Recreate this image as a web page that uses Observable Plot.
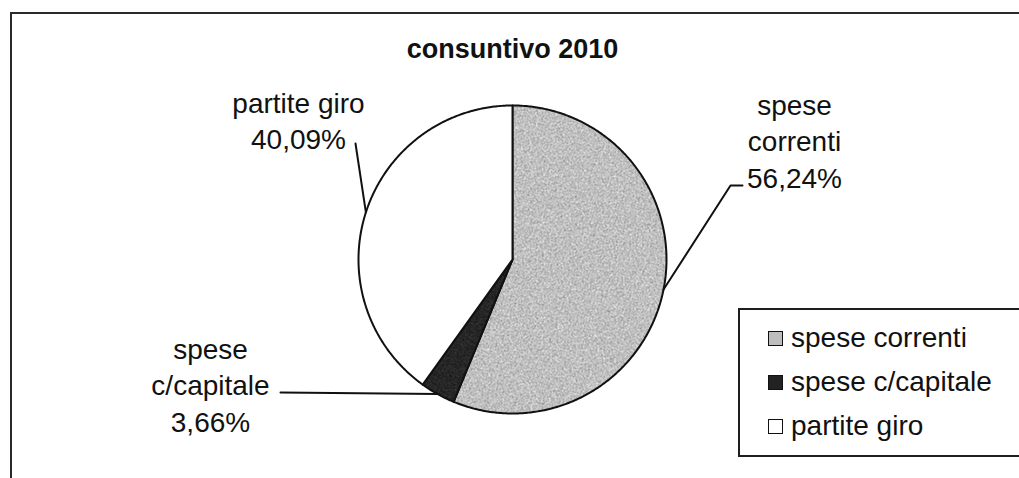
<!DOCTYPE html>
<html>
<head>
<meta charset="utf-8">
<script src="https://cdn.jsdelivr.net/npm/d3@7"></script>
<script src="https://cdn.jsdelivr.net/npm/@observablehq/plot@0.6"></script>
<style>
  html, body { margin: 0; padding: 0; background: #fff; }
  body { width: 1019px; height: 478px; position: relative; overflow: hidden; font-family: "Liberation Sans", Arial, sans-serif; }
  #chart { position: absolute; left: 0; top: 0; }
  #frame { position: absolute; left: 10px; top: 12px; width: 1030px; height: 500px; border: 2px solid #2a2a2a; pointer-events: none; }
  #legend { position: absolute; left: 738px; top: 308px; width: 300px; height: 145px; border: 2px solid #1e1e1e; background: #fff; }
  .row { position: absolute; left: 28px; height: 44px; display: flex; align-items: center; font-size: 28px; color: #111; white-space: nowrap; }
  .sw { width: 13px; height: 13px; border: 1.5px solid #111; margin-right: 8px; box-sizing: content-box; }
</style>
</head>
<body>
<svg width="0" height="0" style="position:absolute">
  <defs>
    <filter id="noiseLight" x="0" y="0" width="100%" height="100%" color-interpolation-filters="sRGB">
      <feTurbulence type="fractalNoise" baseFrequency="0.85" numOctaves="2" seed="3" result="n"/>
      <feColorMatrix in="n" type="matrix" values="0.9 0 0 0 0.3  0.9 0 0 0 0.3  0.9 0 0 0 0.3  0 0 0 0 1"/>
    </filter>
    <filter id="noiseDark" x="0" y="0" width="100%" height="100%" color-interpolation-filters="sRGB">
      <feTurbulence type="fractalNoise" baseFrequency="0.85" numOctaves="2" seed="5" result="n"/>
      <feColorMatrix in="n" type="matrix" values="0.4 0 0 0 -0.05  0.4 0 0 0 -0.05  0.4 0 0 0 -0.05  0 0 0 0 1"/>
    </filter>
    <pattern id="speckLight" patternUnits="userSpaceOnUse" width="400" height="400">
      <rect width="400" height="400" filter="url(#noiseLight)"/>
    </pattern>
    <pattern id="speckDark" patternUnits="userSpaceOnUse" width="400" height="400">
      <rect width="400" height="400" filter="url(#noiseDark)"/>
    </pattern>
  </defs>
</svg>
<div id="chart"></div>
<div id="legend"></div>
<div id="frame"></div>
<script>
// ---- data ----
const title = "consuntivo 2010";
const categories = ["spese correnti", "spese c/capitale", "partite giro"];
const shares = [56.24, 3.66, 40.09];
const shareLabels = ["56,24%", "3,66%", "40,09%"];
const labelTexts = ["spese\ncorrenti", "spese\nc/capitale", "partite giro"];
const sliceFills = ["url(#speckLight)", "url(#speckDark)", "#ffffff"];
const legendSwatch = ["#bdbdbd", "#222222", "#ffffff"];

// ---- layout (pixels) ----
const W = 1019, H = 478;
const cx = 512, cy = 259, R = 154;
const labelPos = [[794, 139], [210, 383], [298, 119]];
const leaderElbows = [[[730, 185], [742, 185]], [[280, 392]], [[355, 143]]];
const ux = px => (px - cx) / R;
const uy = py => (cy - py) / R;

// ---- build slices from data ----
const pie = d3.pie().sort(null).value(d => d)(shares);
const slicePts = [];
pie.forEach((p, i) => {
  const n = Math.max(4, Math.ceil((p.endAngle - p.startAngle) / 0.01));
  slicePts.push({k: categories[i], x: 0, y: 0});
  for (let j = 0; j <= n; j++) {
    const a = p.startAngle + (p.endAngle - p.startAngle) * j / n;
    slicePts.push({k: categories[i], x: Math.sin(a), y: Math.cos(a)});
  }
  slicePts.push({k: categories[i], x: 0, y: 0});
});

const leaders = [];
pie.forEach((p, i) => {
  const a = (p.startAngle + p.endAngle) / 2;
  leaders.push({k: categories[i], x: Math.sin(a), y: Math.cos(a)});
  leaderElbows[i].forEach(([px, py]) => leaders.push({k: categories[i], x: ux(px), y: uy(py)}));
});

const labels = categories.map((c, i) => ({
  k: c,
  text: labelTexts[i] + "\n" + shareLabels[i],
  x: ux(labelPos[i][0]),
  y: uy(labelPos[i][1])
}));

const chart = Plot.plot({
  width: W,
  height: H,
  marginLeft: cx - R,
  marginRight: W - (cx + R),
  marginTop: cy - R,
  marginBottom: H - (cy + R),
  x: {domain: [-1, 1], axis: null},
  y: {domain: [-1, 1], axis: null},
  color: {domain: categories, range: sliceFills},
  style: {background: "transparent", fontFamily: "'Liberation Sans', Arial, sans-serif"},
  marks: [
    Plot.line(slicePts, {x: "x", y: "y", z: "k", fill: "k", stroke: "#111", strokeWidth: 2, strokeLinejoin: "round", curve: "linear"}),
    Plot.line(leaders, {x: "x", y: "y", z: "k", stroke: "#111", strokeWidth: 2}),
    Plot.text(labels, {x: "x", y: "y", text: "text", fontSize: 28, lineHeight: 1.3, fill: "#111", textAnchor: "middle"}),
    Plot.text([title], {x: ux(512), y: uy(49), text: d => d, fontSize: 27, fontWeight: "bold", fill: "#111"})
  ]
});
document.getElementById("chart").appendChild(chart);

// ---- legend ----
const leg = d3.select("#legend");
const rowCenters = [28, 72, 116];
categories.forEach((c, i) => {
  const r = leg.append("div").attr("class", "row").style("top", (rowCenters[i] - 22) + "px");
  r.append("div").attr("class", "sw").style("background", legendSwatch[i]);
  r.append("span").text(c);
});
</script>
</body>
</html>
